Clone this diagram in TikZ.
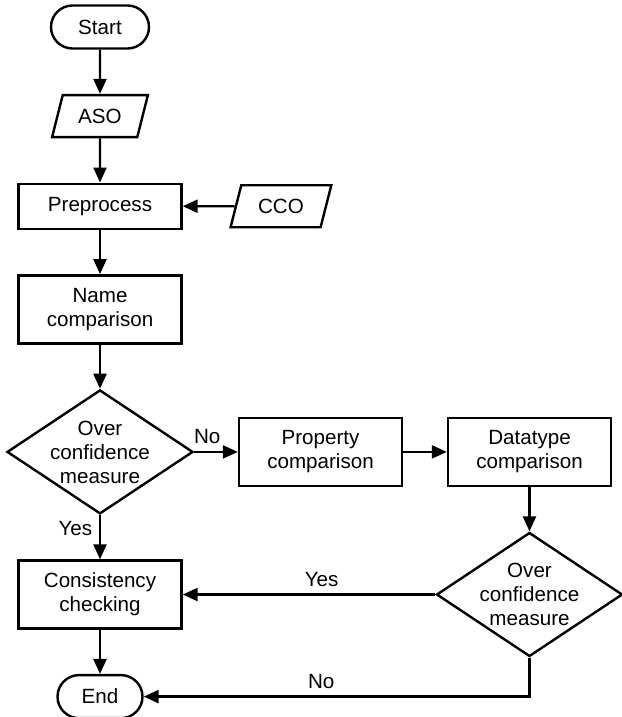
\documentclass[tikz,border=0pt]{standalone}
\usepackage{fontspec}
\setmainfont{Liberation Sans}
\usepackage{tikz}
\usetikzlibrary{positioning, arrows.meta, shapes.geometric}

\begin{document}
\begin{tikzpicture}[
                node distance=22.1pt,
                font=\fontsize{10.3pt}{12pt}\selectfont,
                line width=1.2pt,
                >={Triangle[length=7.5pt, width=6.5pt]},
                terminal/.style={draw, rectangle, rounded corners=10.75pt, minimum height=21.5pt, inner sep=0pt},
                iobox/.style={draw, trapezium, trapezium left angle=67, trapezium right angle=113, trapezium stretches=true, minimum width=48pt, minimum height=21pt, inner sep=0pt},
                process/.style={draw, rectangle, minimum width=81.5pt, minimum height=22.5pt, align=center},
                decision/.style={draw, diamond, minimum width=93pt, minimum height=62pt, inner sep=0pt}
                ]

                \useasboundingbox (0,0) rectangle (310.5pt,-358.5pt);

                % 노드 배치
                \node[terminal, minimum width=49pt] (start) at (50pt,-13.5pt) {Start};
                \node[iobox] (aso) [below=of start] {ASO};
                \node[process] (pre) [below=of aso] {Preprocess};
                \node[iobox, minimum width=50.5pt] (cco) [right=26pt of pre] {CCO};
                \node[process, minimum height=34pt] (name) [below=of pre] {Name\\comparison};
                \node[decision] (q1) [below=of name] {};
                \node[align=center] (q1text) at (q1) {Over\\confidence\\measure};
                \node[process, minimum height=34pt] (prop) [right=21.8pt of q1] {Property\\comparison};
                \node[process, minimum height=34pt] (dtype) [right=21.8pt of prop] {Datatype\\comparison};
                \node[decision] (q2) [below=of dtype] {};
                \node[align=center] (q2text) at (q2) {Over\\confidence\\measure};
                \node[process, minimum height=34pt] (cons) [below=of q1] {Consistency\\checking};
                \node[terminal, minimum width=42.5pt] (end) [below=of cons] {End};

                % 에지 연결
                \draw[->] (start) -- (aso);
                \draw[->] (aso) -- (pre);
                \draw[->] (cco) -- (pre);
                \draw[->] (pre) -- (name);
                \draw[->] (name) -- (q1);
                \draw[->] (q1) -- node[above, pos=0.3] (q1no) {No} (prop);
                \draw[->] (prop) -- (dtype);
                \draw[->] (dtype) -- (q2);
                \draw[->] (q1) -- node[left, pos=0.3] (q1yes) {Yes} (cons);
                \draw[->] (q2) -- node[above, pos=0.45] (q2yes) {Yes} (cons);
                \draw[->] (q2.south) |- node[above, pos=0.77] (q2no) {No} (end.east);
                \draw[->] (cons) -- (end);
            \end{tikzpicture}
\end{document}
